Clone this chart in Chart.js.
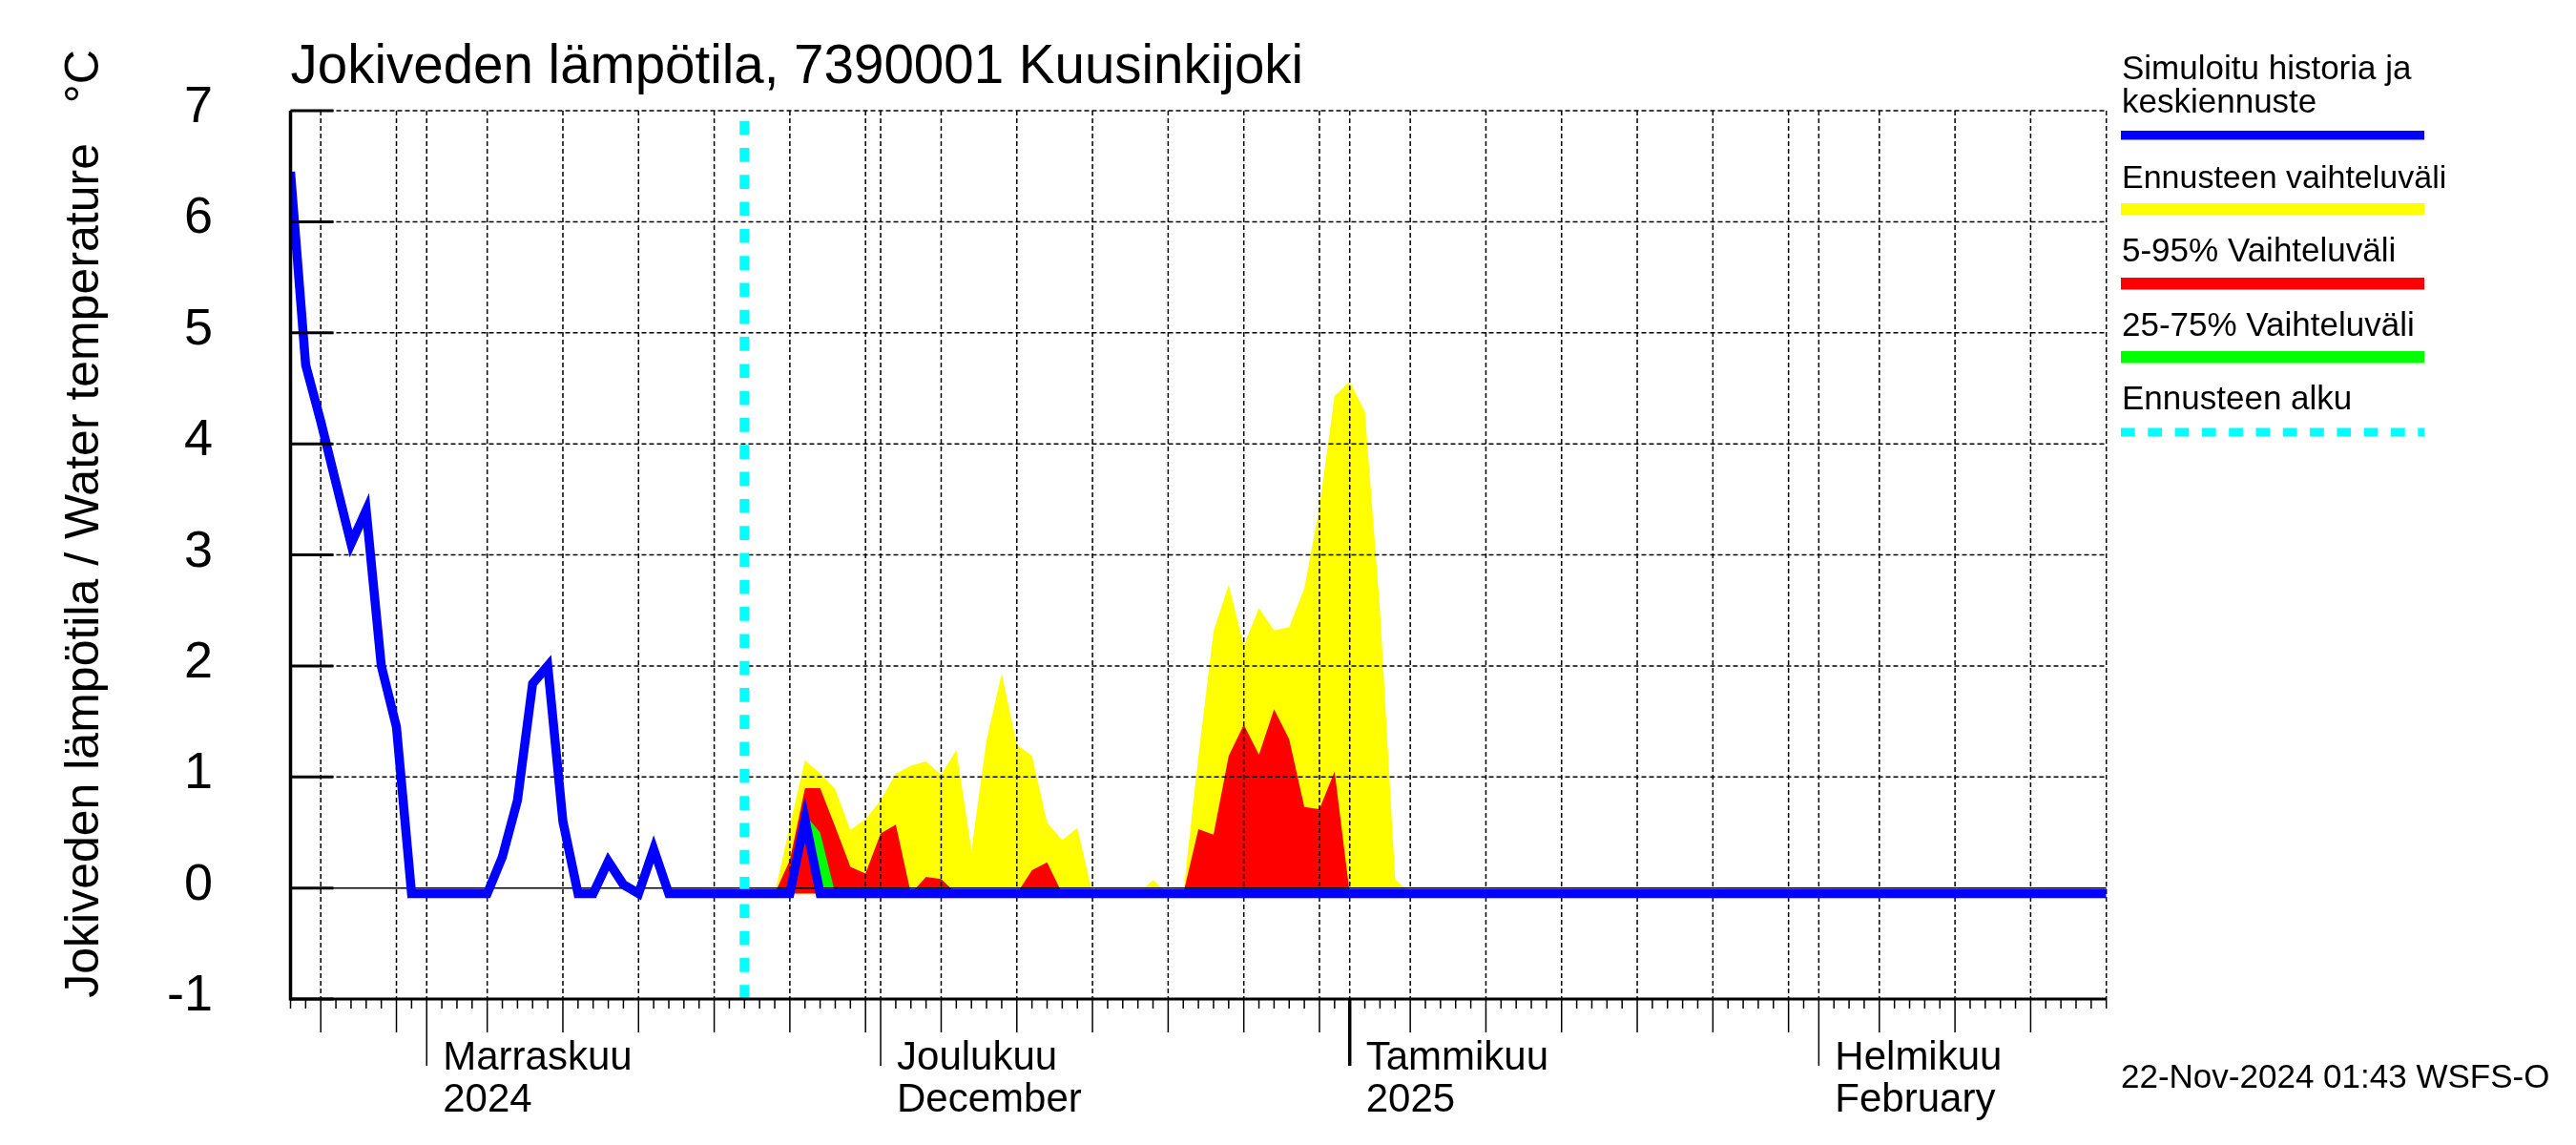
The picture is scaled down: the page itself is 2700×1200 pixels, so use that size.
<!DOCTYPE html>
<html>
<head>
<meta charset="utf-8">
<title>Jokiveden lämpötila, 7390001 Kuusinkijoki</title>
<script src="https://cdn.jsdelivr.net/npm/chart.js@4.4.1/dist/chart.umd.min.js"></script>
<style>
  html, body { margin: 0; padding: 0; background: #fff; }
  #wrap { width: 2700px; height: 1200px; }
</style>
</head>
<body>
<div id="wrap"><canvas id="temp-chart" width="2700" height="1200"></canvas></div>
<script>
// päivät = päiviä 23.10.2024 jälkeen (0 = 23.10., 120 = 20.2.2025)
const histDays = [0, 1, 2, 3, 4, 5, 6, 7, 8, 9, 10, 11, 12, 13, 14, 15, 16, 17, 18, 19, 20, 21, 22, 23, 24, 25, 26, 27, 28, 29, 30];
const histTemp = [6.45, 4.71, 4.2, 3.65, 3.1, 3.4, 2.0, 1.45, -0.05, -0.05, -0.05, -0.05, -0.05, -0.05, 0.28, 0.79, 1.84, 2.0, 0.6,
  -0.05, -0.05, 0.24, 0.03, -0.05, 0.35, -0.05, -0.05, -0.05, -0.05, -0.05, -0.05];

// keskiennuste (mediaani)
const fcDays = [30, 31, 32, 33, 34, 35, 36, 120];
const fcMedian = [-0.05, -0.05, -0.05, -0.05, 0.62, -0.05, -0.05, -0.05];

// ennusteen vaihteluvälit
const bandDays = [31, 32, 33, 34, 35, 36, 37, 38, 39, 40, 41, 42, 43, 44, 45, 46, 47, 48, 49, 50, 51, 52, 53, 54, 55,
  56, 57, 58, 59, 60, 61, 62, 63, 64, 65, 66, 67, 68, 69, 70, 71, 72, 73, 74, 75];
const fcMax = [-0.05, -0.05, 0.56, 1.15, 1.03, 0.89, 0.52, 0.62, 0.79, 1.03, 1.10, 1.14, 1.02, 1.24, 0.34, 1.33, 1.93, 1.29,
  1.19, 0.59, 0.43, 0.54, -0.05, -0.05, -0.05, -0.05, 0.07, -0.05, -0.05, 1.18, 2.31, 2.73, 2.18, 2.52, 2.32, 2.35, 2.70,
  3.43, 4.43, 4.56, 4.29, 2.50, 0.08, -0.05, -0.05];
const fc95 = [-0.05, -0.05, 0.25, 0.90, 0.90, 0.55, 0.19, 0.13, 0.49, 0.57, -0.05, 0.10, 0.08, -0.05, -0.05, -0.05, -0.05,
  -0.05, 0.16, 0.23, -0.05, -0.05, -0.05, -0.05, -0.05, -0.05, -0.05, -0.05, -0.05, 0.53, 0.48, 1.19, 1.47, 1.20, 1.61,
  1.34, 0.73, 0.71, 1.05, -0.05, -0.05, -0.05, -0.05, -0.05, -0.05];
const quartDays = [32, 33, 34, 35, 36, 37];
const fc75 = [-0.05, -0.05, 0.66, 0.5, -0.05, -0.05];
const fc25 = [-0.05, -0.05, 0.62, -0.05, -0.05, -0.05];

const forecastStart = 30;
const yTicks = [-1, 0, 1, 2, 3, 4, 5, 6, 7];
const gridDays = [2, 7, 9, 13, 18, 23, 28, 33, 38, 39, 43, 48, 53, 58, 63, 68, 70, 74, 79, 84, 89, 94, 99, 101, 105, 110, 115, 120];
const monthDays = [9, 39, 70, 101];
const monthLabels = [["Marraskuu", "2024"], ["Joulukuu", "December"], ["Tammikuu", "2025"], ["Helmikuu", "February"]];

const FONT = '"Liberation Sans", Arial, Helvetica, sans-serif';
const BLUE = "#0000ff", YELLOW = "#ffff00", RED = "#ff0000", GREEN = "#00ff00", CYAN = "#00ffff";

const pts = (xs, ys) => xs.map((x, i) => ({ x: x, y: ys[i] }));

function line(ctx, x1, y1, x2, y2) {
  ctx.beginPath();
  ctx.moveTo(x1, y1);
  ctx.lineTo(x2, y2);
  ctx.stroke();
}

function text(ctx, str, x, y, size, align) {
  ctx.font = size + "px " + FONT;
  ctx.textAlign = align || "left";
  ctx.textBaseline = "alphabetic";
  ctx.fillStyle = "#000";
  ctx.fillText(str, x, y);
}

const frame = {
  id: "frame",
  // ruudukko täyttöjen päälle mutta viivojen alle
  beforeDatasetDraw(chart, args) {
    if (args.index !== 1) return;
    const { ctx, chartArea: a, scales: { x, y } } = chart;
    ctx.save();
    ctx.strokeStyle = "#000";
    ctx.lineWidth = 1.5;
    ctx.setLineDash([5, 3]);
    gridDays.forEach((d) => {
      const px = x.getPixelForValue(d);
      line(ctx, px, a.top, px, a.bottom);
    });
    yTicks.forEach((v) => {
      if (v <= 0) return;
      const py = y.getPixelForValue(v);
      line(ctx, a.left, py, a.right, py);
    });
    ctx.setLineDash([]);
    const y0 = y.getPixelForValue(0);
    line(ctx, a.left, y0, a.right, y0);
    ctx.restore();
  },
  afterDatasetsDraw(chart) {
    const { ctx, chartArea: a, scales: { x, y } } = chart;
    ctx.save();
    ctx.strokeStyle = "#000";
    // akselit
    ctx.lineWidth = 3.5;
    line(ctx, a.left, a.top, a.left, a.bottom + 1.5);
    ctx.lineWidth = 3;
    line(ctx, a.left, a.bottom, a.right, a.bottom);
    // y-akselin merkit
    yTicks.forEach((v) => {
      const py = y.getPixelForValue(v);
      line(ctx, a.left, py, a.left + 45, py);
    });
    // x-akselin merkit: päivä, 5 päivää, kuukausi
    for (let d = 0; d <= 120; d++) {
      const px = x.getPixelForValue(d);
      let len = 10;
      ctx.lineWidth = 1.5;
      if (gridDays.includes(d) && d < 120) len = 35;
      if (monthDays.includes(d)) {
        len = 70;
        if (d === 70) ctx.lineWidth = 3.5;
      }
      line(ctx, px, a.bottom, px, a.bottom + len);
    }
    ctx.restore();
  },
  afterDraw(chart) {
    const { ctx, chartArea: a, scales: { x, y } } = chart;
    ctx.save();
    text(ctx, "Jokiveden lämpötila, 7390001 Kuusinkijoki", a.left, 87, 56.5);
    yTicks.forEach((v) => {
      text(ctx, String(v), 223, y.getPixelForValue(v) + 12, 54, "right");
    });
    monthDays.forEach((d, i) => {
      const px = x.getPixelForValue(d) + 17;
      text(ctx, monthLabels[i][0], px, 1121, 42);
      text(ctx, monthLabels[i][1], px, 1165, 42);
    });
    // pystyakselin otsikko
    ctx.save();
    ctx.translate(103, 549);
    ctx.rotate(-Math.PI / 2);
    text(ctx, "Jokiveden lämpötila / Water temperature   °C", 0, 0, 50, "center");
    ctx.restore();

    text(ctx, "22-Nov-2024 01:43 WSFS-O", 2223, 1140, 35);

    // selite
    const lx = 2223, lw = 318;
    text(ctx, "Simuloitu historia ja", lx + 1, 83, 35);
    text(ctx, "keskiennuste", lx + 1, 118, 35);
    ctx.fillStyle = BLUE;
    ctx.fillRect(lx, 137, lw, 9.5);
    text(ctx, "Ennusteen vaihteluväli", lx + 1, 197, 34);
    ctx.fillStyle = YELLOW;
    ctx.fillRect(lx, 213, lw, 12);
    text(ctx, "5-95% Vaihteluväli", lx + 1, 274, 35);
    ctx.fillStyle = RED;
    ctx.fillRect(lx, 291, lw, 12.5);
    text(ctx, "25-75% Vaihteluväli", lx + 1, 352, 35);
    ctx.fillStyle = GREEN;
    ctx.fillRect(lx, 368, lw, 12.5);
    text(ctx, "Ennusteen alku", lx + 1, 429, 35);
    ctx.strokeStyle = CYAN;
    ctx.lineWidth = 9;
    ctx.setLineDash([14.7, 13.6]);
    line(ctx, lx, 453, lx + lw, 453);
    ctx.restore();
  },
};

const ctx = document.getElementById("temp-chart").getContext("2d");
new Chart(ctx, {
  type: "line",
  data: {
    datasets: [
      {
        label: "Simuloitu historia ja keskiennuste",
        data: pts(histDays.concat(fcDays.slice(1)), histTemp.concat(fcMedian.slice(1))),
        borderColor: BLUE,
        borderWidth: 9.5,
        borderJoinStyle: "miter",
        fill: false,
      },
      {
        label: "Ennusteen alku",
        data: [{ x: forecastStart, y: -1 }, { x: forecastStart, y: 7 }],
        borderColor: CYAN,
        borderWidth: 10,
        borderDash: [14.7, 13.6],
        fill: false,
      },
      {
        label: "25-75% Vaihteluväli",
        data: pts(quartDays, fc75),
        borderColor: "rgba(0,0,0,0)",
        backgroundColor: GREEN,
        fill: "+1",
      },
      {
        label: "25%",
        data: pts(quartDays, fc25),
        borderColor: "rgba(0,0,0,0)",
        fill: false,
      },
      {
        label: "5-95% Vaihteluväli",
        data: pts(bandDays, fc95),
        borderColor: "rgba(0,0,0,0)",
        backgroundColor: RED,
        fill: { value: -0.05 },
      },
      {
        label: "Ennusteen vaihteluväli",
        data: pts(bandDays, fcMax),
        borderColor: "rgba(0,0,0,0)",
        backgroundColor: YELLOW,
        fill: { value: -0.05 },
      },
    ],
  },
  options: {
    responsive: false,
    animation: false,
    devicePixelRatio: 1,
    layout: { padding: { left: 304.5, right: 492.3, top: 116, bottom: 153 } },
    elements: { point: { radius: 0 }, line: { tension: 0 } },
    scales: {
      x: { type: "linear", min: 0, max: 120, display: false },
      y: { type: "linear", min: -1, max: 7, display: false },
    },
    plugins: {
      legend: { display: false },
      title: { display: false },
      tooltip: { enabled: false },
    },
  },
  plugins: [frame],
});
</script>
</body>
</html>
